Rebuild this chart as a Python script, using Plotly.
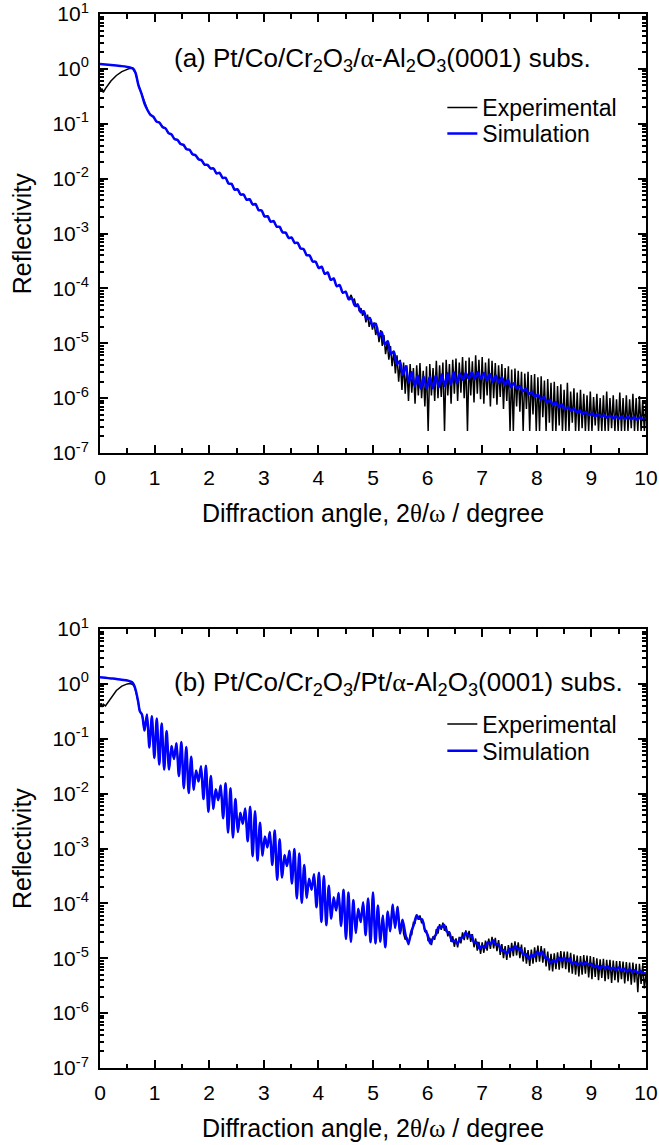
import numpy as np
import plotly.graph_objects as go

# ======================= DATA (log10 of reflectivity) =======================
# ---- panel (a): Pt/Co/Cr2O3/a-Al2O3(0001) ----
sim_a_start_x = [0.0, 0.1, 0.2, 0.3, 0.4, 0.5, 0.55, 0.6]
sim_a_start_log = [0.09, 0.08, 0.07, 0.06, 0.05, 0.035, 0.025, 0.01]
SIM_A_X0, SIM_A_DX = 0.65, 0.055
sim_a_log = [
    -0.07, -0.30, -0.45, -0.63, -0.75, -0.84, -0.875, -0.96, -0.98, -1.06,
    -1.085, -1.17, -1.195, -1.28, -1.295, -1.37, -1.385, -1.465, -1.475, -1.555,
    -1.575, -1.645, -1.665, -1.745, -1.75, -1.815, -1.815, -1.905, -1.895, -1.985,
    -1.985, -2.09, -2.095, -2.20, -2.195, -2.29, -2.29, -2.385, -2.375, -2.47,
    -2.465, -2.575, -2.58, -2.69, -2.685, -2.785, -2.775, -2.875, -2.88, -2.98,
    -2.985, -3.08, -3.075, -3.17, -3.17, -3.275, -3.285, -3.395, -3.40, -3.51,
    -3.515, -3.63, -3.605, -3.735, -3.71, -3.845, -3.82, -3.96, -3.94, -4.08,
    -4.06, -4.20, -4.175, -4.315, -4.295, -4.435, -4.415, -4.56, -4.54, -4.685,
    -4.645, -4.86, -4.795, -5.02, -4.965, -5.195, -5.15, -5.38, -5.33, -5.575,
    -5.42, -5.705, -5.53, -5.78, -5.59, -5.83, -5.61, -5.83, -5.61, -5.82,
    -5.59, -5.80, -5.57, -5.78, -5.545, -5.755, -5.525, -5.73, -5.55, -5.665,
    -5.54, -5.65, -5.53, -5.65, -5.53, -5.65, -5.54, -5.67, -5.56, -5.70,
    -5.59, -5.725, -5.62, -5.76, -5.66, -5.80, -5.73, -5.825, -5.78, -5.875,
    -5.83, -5.925, -5.885, -5.98, -5.935, -6.025, -5.98, -6.075, -6.03, -6.125,
    -6.075, -6.165, -6.115, -6.205, -6.17, -6.225, -6.20, -6.26, -6.23, -6.285,
    -6.255, -6.31, -6.28, -6.33, -6.295, -6.34, -6.31, -6.355, -6.32, -6.365,
    -6.33, -6.37, -6.335, -6.38, -6.34, -6.385, -6.35, -6.39, -6.355, -6.40,
    -6.38]

exp_a_start_x = [0.0, 0.02, 0.04, 0.06, 0.1, 0.15, 0.2, 0.3, 0.4, 0.5, 0.55, 0.6]
exp_a_start_log = [-0.33, -0.40, -0.36, -0.43, -0.36, -0.28, -0.22, -0.12, -0.05, -0.01, 0.01, 0.0]
EXP_A_SMOOTH_N = 72          # experimental follows the simulation up to ~4.56 deg
EXP_A_X0, EXP_A_DX = 4.60, 0.03
exp_a_noise_log = [
    -4.12, -4.22, -4.20, -4.34, -4.28, -4.42, -4.36, -4.50, -4.42, -4.62,
    -4.48, -4.70, -4.56, -4.75, -4.62, -4.85, -4.70, -4.98, -4.76, -5.05,
    -4.85, -5.20, -4.98, -5.30, -5.05, -5.42, -5.15, -5.55, -5.22, -5.70,
    -5.30, -5.85, -5.35, -5.92, -5.40, -6.05, -5.38, -5.90, -5.45, -6.10,
    -5.40, -5.95, -5.36, -6.00, -5.50, -6.15, -5.42, -6.60, -5.38, -5.95,
    -5.45, -6.05, -5.32, -6.00, -5.40, -5.98, -5.35, -6.60, -5.30, -5.95,
    -5.38, -6.10, -5.30, -5.92, -5.28, -6.05, -5.35, -5.90, -5.25, -6.00,
    -5.32, -6.60, -5.26, -5.95, -5.33, -6.08, -5.22, -5.92, -5.30, -6.02,
    -5.25, -6.10, -5.35, -5.95, -5.28, -6.15, -5.32, -6.00, -5.36, -6.12,
    -5.40, -5.98, -5.38, -6.20, -5.45, -6.05, -5.42, -6.60, -5.48, -6.60,
    -5.46, -6.15, -5.50, -6.25, -5.52, -6.60, -5.55, -6.20, -5.52, -6.60,
    -5.58, -6.30, -5.56, -6.60, -5.62, -6.60, -5.60, -6.35, -5.68, -6.60,
    -5.65, -6.45, -5.72, -6.60, -5.70, -6.60, -5.78, -6.50, -5.75, -6.60,
    -5.85, -6.60, -5.72, -6.60, -5.88, -6.45, -5.82, -6.60, -5.90, -6.60,
    -5.85, -6.55, -5.92, -6.60, -5.95, -6.60, -5.88, -6.60, -5.98, -6.50,
    -5.92, -6.60, -6.00, -6.60, -5.95, -6.60, -5.88, -6.60, -6.00, -6.55,
    -5.95, -6.60, -6.02, -6.60, -5.90, -6.60, -6.00, -6.60, -5.95, -6.60,
    -6.02, -6.55, -5.92, -6.60, -6.00, -6.60, -5.96, -6.60, -6.04, -6.60,
    -6.10]

# ---- panel (b): Pt/Co/Cr2O3/Pt/a-Al2O3(0001) ----
sim_b_start_x = [0.0, 0.1, 0.2, 0.3, 0.4, 0.5, 0.55, 0.6, 0.63, 0.66, 0.7, 0.73]
sim_b_start_log = [0.12, 0.11, 0.10, 0.09, 0.075, 0.06, 0.045, 0.02, -0.04, -0.14, -0.33, -0.50]
SIM_B_X0, SIM_B_DX = 0.77, 0.045
sim_b_osc_log = [
    -0.56, -0.85, -0.56, -1.16, -0.59, -1.35, -0.63, -1.47, -0.72, -1.56,
    -0.86, -1.56, -1.13, -1.37, -1.08, -1.68, -1.06, -1.90, -1.15, -1.99,
    -1.33, -1.93, -1.58, -1.78, -1.50, -2.10, -1.49, -2.33, -1.68, -2.28,
    -1.92, -2.12, -1.85, -2.45, -1.81, -2.71, -1.90, -2.80, -2.10, -2.70,
    -2.35, -2.55, -2.27, -2.87, -2.24, -3.14, -2.32, -3.22, -2.53, -3.13,
    -2.78, -2.98, -2.70, -3.30, -2.67, -3.57, -2.83, -3.53, -3.12, -3.32,
    -3.04, -3.64, -3.01, -3.91, -3.09, -3.99, -3.30, -3.90, -3.55, -3.75,
    -3.47, -4.07, -3.44, -4.34, -3.50, -4.40, -3.68, -4.28, -3.89, -4.13,
    -3.81, -4.41, -3.75, -4.65, -3.80, -4.70, -3.94, -4.54, -4.10, -4.34,
    -3.98, -4.58, -3.91, -4.71, -3.80, -4.73, -4.04, -4.70, -4.22, -4.80,
    -4.15, -4.51, -4.02, -4.45, -4.06, -4.55, -4.30]
SIM_B_TAIL_X0, SIM_B_TAIL_DX = 5.60, 0.05
sim_b_tail_log = [
    -4.59, -4.73, -4.52, -4.38, -4.22, -4.28, -4.29, -4.48, -4.57, -4.73,
    -4.63, -4.58, -4.43, -4.44, -4.39, -4.51, -4.54, -4.69, -4.68, -4.74,
    -4.63, -4.62, -4.53, -4.60, -4.58, -4.71, -4.71, -4.82, -4.77, -4.81,
    -4.71, -4.74, -4.67, -4.75, -4.74, -4.86, -4.85, -4.92, -4.83, -4.85,
    -4.77, -4.84, -4.82, -4.93, -4.92, -5.01, -4.94, -4.97, -4.88, -4.93,
    -4.88, -4.99, -4.99, -5.09, -5.03, -5.07, -4.99, -5.04, -4.99, -5.05,
    -5.01, -5.10, -5.07, -5.12, -5.08, -5.11, -5.07, -5.12, -5.10, -5.16,
    -5.13, -5.18, -5.14, -5.18, -5.15, -5.20, -5.17, -5.21, -5.17, -5.22,
    -5.19, -5.24, -5.20, -5.25, -5.22, -5.27, -5.23, -5.28, -5.26]

exp_b_start_x = [0.0, 0.02, 0.04, 0.06, 0.1, 0.15, 0.2, 0.3, 0.4, 0.5, 0.55, 0.6, 0.63, 0.66, 0.7, 0.73]
exp_b_start_log = [-0.42, -0.35, -0.42, -0.37, -0.40, -0.33, -0.24, -0.12, -0.04, 0.0, 0.005, -0.01,
                   -0.05, -0.15, -0.34, -0.50]
EXP_B_X0, EXP_B_DX = 5.56, 0.03
exp_b_noise_log = [
    -4.55, -4.66, -4.62, -4.76, -4.58, -4.57, -4.35, -4.36, -4.20, -4.30,
    -4.22, -4.36, -4.33, -4.52, -4.49, -4.69, -4.63, -4.76, -4.60, -4.66,
    -4.47, -4.55, -4.38, -4.48, -4.35, -4.50, -4.41, -4.60, -4.51, -4.70,
    -4.60, -4.79, -4.64, -4.80, -4.61, -4.73, -4.53, -4.67, -4.49, -4.66,
    -4.50, -4.70, -4.56, -4.80, -4.64, -4.86, -4.70, -4.92, -4.71, -4.90,
    -4.68, -4.86, -4.64, -4.83, -4.61, -4.82, -4.63, -4.87, -4.67, -4.94,
    -4.74, -5.00, -4.78, -5.03, -4.76, -4.99, -4.72, -4.96, -4.69, -4.95,
    -4.71, -5.00, -4.75, -5.06, -4.80, -5.10, -4.85, -5.14, -4.84, -5.10,
    -4.80, -5.07, -4.77, -5.06, -4.78, -5.08, -4.82, -5.15, -4.88, -5.22,
    -4.92, -5.24, -4.91, -5.20, -4.89, -5.21, -4.87, -5.18, -4.88, -5.20,
    -4.88, -5.26, -4.90, -5.28, -4.93, -5.30, -4.95, -5.33, -4.96, -5.30,
    -4.94, -5.28, -4.95, -5.35, -4.96, -5.38, -4.98, -5.34, -5.00, -5.40,
    -5.02, -5.36, -5.01, -5.42, -5.03, -5.38, -5.03, -5.45, -5.04, -5.40,
    -5.05, -5.44, -5.05, -5.38, -5.06, -5.46, -5.07, -5.42, -5.08, -5.48,
    -5.08, -5.44, -5.10, -5.62, -5.10, -5.47, -5.12, -5.55, -5.30]

# axis ticks / labels
x_ticks = list(range(0, 11))
y_exponents = list(range(-7, 2))
y_tick_vals = [10.0 ** e for e in y_exponents]
y_tick_text = ["10<sup>%d</sup>" % e for e in y_exponents]
y_minor_vals = [m * 10.0 ** e for e in range(-7, 1) for m in range(2, 10)]

legend_names = ["Experimental", "Simulation"]
SERIF = "<span style='font-family:Liberation Serif'>%s</span>"
panel_labels = [
    "(a) Pt/Co/Cr<sub>2</sub>O<sub>3</sub>/" + SERIF % "\u03b1" + "-Al<sub>2</sub>O<sub>3</sub>(0001) subs.",
    "(b) Pt/Co/Cr<sub>2</sub>O<sub>3</sub>/Pt/" + SERIF % "\u03b1" + "-Al<sub>2</sub>O<sub>3</sub>(0001) subs.",
]
x_title = "Diffraction angle, 2" + SERIF % "\u03b8" + "/" + SERIF % "\u03c9" + " / degree"
y_title = "Reflectivity"


def grid(x0, dx, n):
    return list(np.round(x0 + dx * np.arange(n), 4))


def lin(logs):
    return list(np.power(10.0, np.array(logs, dtype=float)))


# ---- assemble series ----
sim_a_x = sim_a_start_x + grid(SIM_A_X0, SIM_A_DX, len(sim_a_log))
sim_a_y = lin(sim_a_start_log + sim_a_log)
exp_a_x = (exp_a_start_x + grid(SIM_A_X0, SIM_A_DX, EXP_A_SMOOTH_N)
           + grid(EXP_A_X0, EXP_A_DX, len(exp_a_noise_log)))
exp_a_y = lin(exp_a_start_log + sim_a_log[:EXP_A_SMOOTH_N] + exp_a_noise_log)

sim_b_x = (sim_b_start_x + grid(SIM_B_X0, SIM_B_DX, len(sim_b_osc_log))
           + grid(SIM_B_TAIL_X0, SIM_B_TAIL_DX, len(sim_b_tail_log)))
sim_b_y = lin(sim_b_start_log + sim_b_osc_log + sim_b_tail_log)
exp_b_x = (exp_b_start_x + grid(SIM_B_X0, SIM_B_DX, len(sim_b_osc_log))
           + grid(EXP_B_X0, EXP_B_DX, len(exp_b_noise_log)))
exp_b_y = lin(exp_b_start_log + sim_b_osc_log + exp_b_noise_log)

# ======================= FIGURE =======================
FONT = "Liberation Sans, Arial, sans-serif"
fig = go.Figure()

fig.add_trace(go.Scatter(x=exp_a_x, y=exp_a_y, mode="lines", name=legend_names[0],
                         line=dict(color="#000000", width=1.5), xaxis="x", yaxis="y", legend="legend"))
fig.add_trace(go.Scatter(x=sim_a_x, y=sim_a_y, mode="lines", name=legend_names[1],
                         line=dict(color="#0000FF", width=2.5, shape="spline", smoothing=0.8),
                         xaxis="x", yaxis="y", legend="legend2"))
fig.add_trace(go.Scatter(x=exp_b_x, y=exp_b_y, mode="lines", name=legend_names[0],
                         line=dict(color="#000000", width=1.5), xaxis="x2", yaxis="y2", legend="legend3"))
fig.add_trace(go.Scatter(x=sim_b_x, y=sim_b_y, mode="lines", name=legend_names[1],
                         line=dict(color="#0000FF", width=2.5, shape="spline", smoothing=0.8),
                         xaxis="x2", yaxis="y2", legend="legend4"))

xax = dict(range=[0, 10], tickmode="array", tickvals=x_ticks, ticks="inside", ticklen=8,
           tickwidth=2, tickcolor="#000", showline=True, linewidth=2, linecolor="#000",
           mirror="ticks", showgrid=False, zeroline=False, automargin=False,
           ticklabeloverflow="allow",
           tickfont=dict(family=FONT, size=21, color="#000"), ticklabelstandoff=5,
           minor=dict(dtick=0.5, tick0=0, ticks="inside", ticklen=4.5, tickwidth=2,
                      tickcolor="#000", showgrid=False))
yax = dict(type="log", range=[-7, 1], tickmode="array", tickvals=y_tick_vals,
           ticktext=y_tick_text, ticks="inside", ticklen=8, tickwidth=2, tickcolor="#000",
           showline=True, linewidth=2, linecolor="#000", mirror="ticks", showgrid=False,
           zeroline=False, automargin=False, ticklabeloverflow="allow",
           tickfont=dict(family=FONT, size=21, color="#000"), ticklabelstandoff=5,
           minor=dict(tickmode="array", tickvals=y_minor_vals, ticks="inside", ticklen=4,
                      tickwidth=1.5, tickcolor="#000", showgrid=False))

TOP_DOM = [0.5835, 1.0]
BOT_DOM = [0.0, 0.4165]

leg = dict(xanchor="left", yanchor="top", bgcolor="rgba(0,0,0,0)", borderwidth=0,
           font=dict(family=FONT, size=23, color="#000"), tracegroupgap=0)
LEG_X = 0.627

annotations = []
for lab, ypos in zip(panel_labels, [0.957, 0.365]):
    annotations.append(dict(text=lab, xref="paper", yref="paper", x=0.132, y=ypos,
                            xanchor="left", yanchor="middle", showarrow=False,
                            font=dict(family=FONT, size=26, color="#000")))
for ypos in [0.5266, -0.0569]:
    annotations.append(dict(text=x_title, xref="paper", yref="paper", x=0.5, y=ypos,
                            xanchor="center", yanchor="middle", showarrow=False,
                            font=dict(family=FONT, size=25, color="#000")))
for ypos in [0.792, 0.2087]:
    annotations.append(dict(text=y_title, xref="paper", yref="paper", x=-0.1429, y=ypos,
                            xanchor="center", yanchor="middle", showarrow=False, textangle=-90,
                            font=dict(family=FONT, size=25, color="#000")))

fig.update_layout(
    width=659, height=1145,
    margin=dict(l=100, r=13, t=14, b=77, autoexpand=False),
    paper_bgcolor="white", plot_bgcolor="white",
    font=dict(family=FONT, color="#000"),
    xaxis=dict(xax, domain=[0, 1], anchor="y"),
    yaxis=dict(yax, domain=TOP_DOM, anchor="x"),
    xaxis2=dict(xax, domain=[0, 1], anchor="y2"),
    yaxis2=dict(yax, domain=BOT_DOM, anchor="x2"),
    legend=dict(leg, x=LEG_X, y=0.9317),
    legend2=dict(leg, x=LEG_X, y=0.9070),
    legend3=dict(leg, x=LEG_X, y=0.3467),
    legend4=dict(leg, x=LEG_X, y=0.3213),
    annotations=annotations,
    showlegend=True,
)

fig.write_html("out.html", config={"displayModeBar": False},
               post_script="document.body.style.margin='0';")
